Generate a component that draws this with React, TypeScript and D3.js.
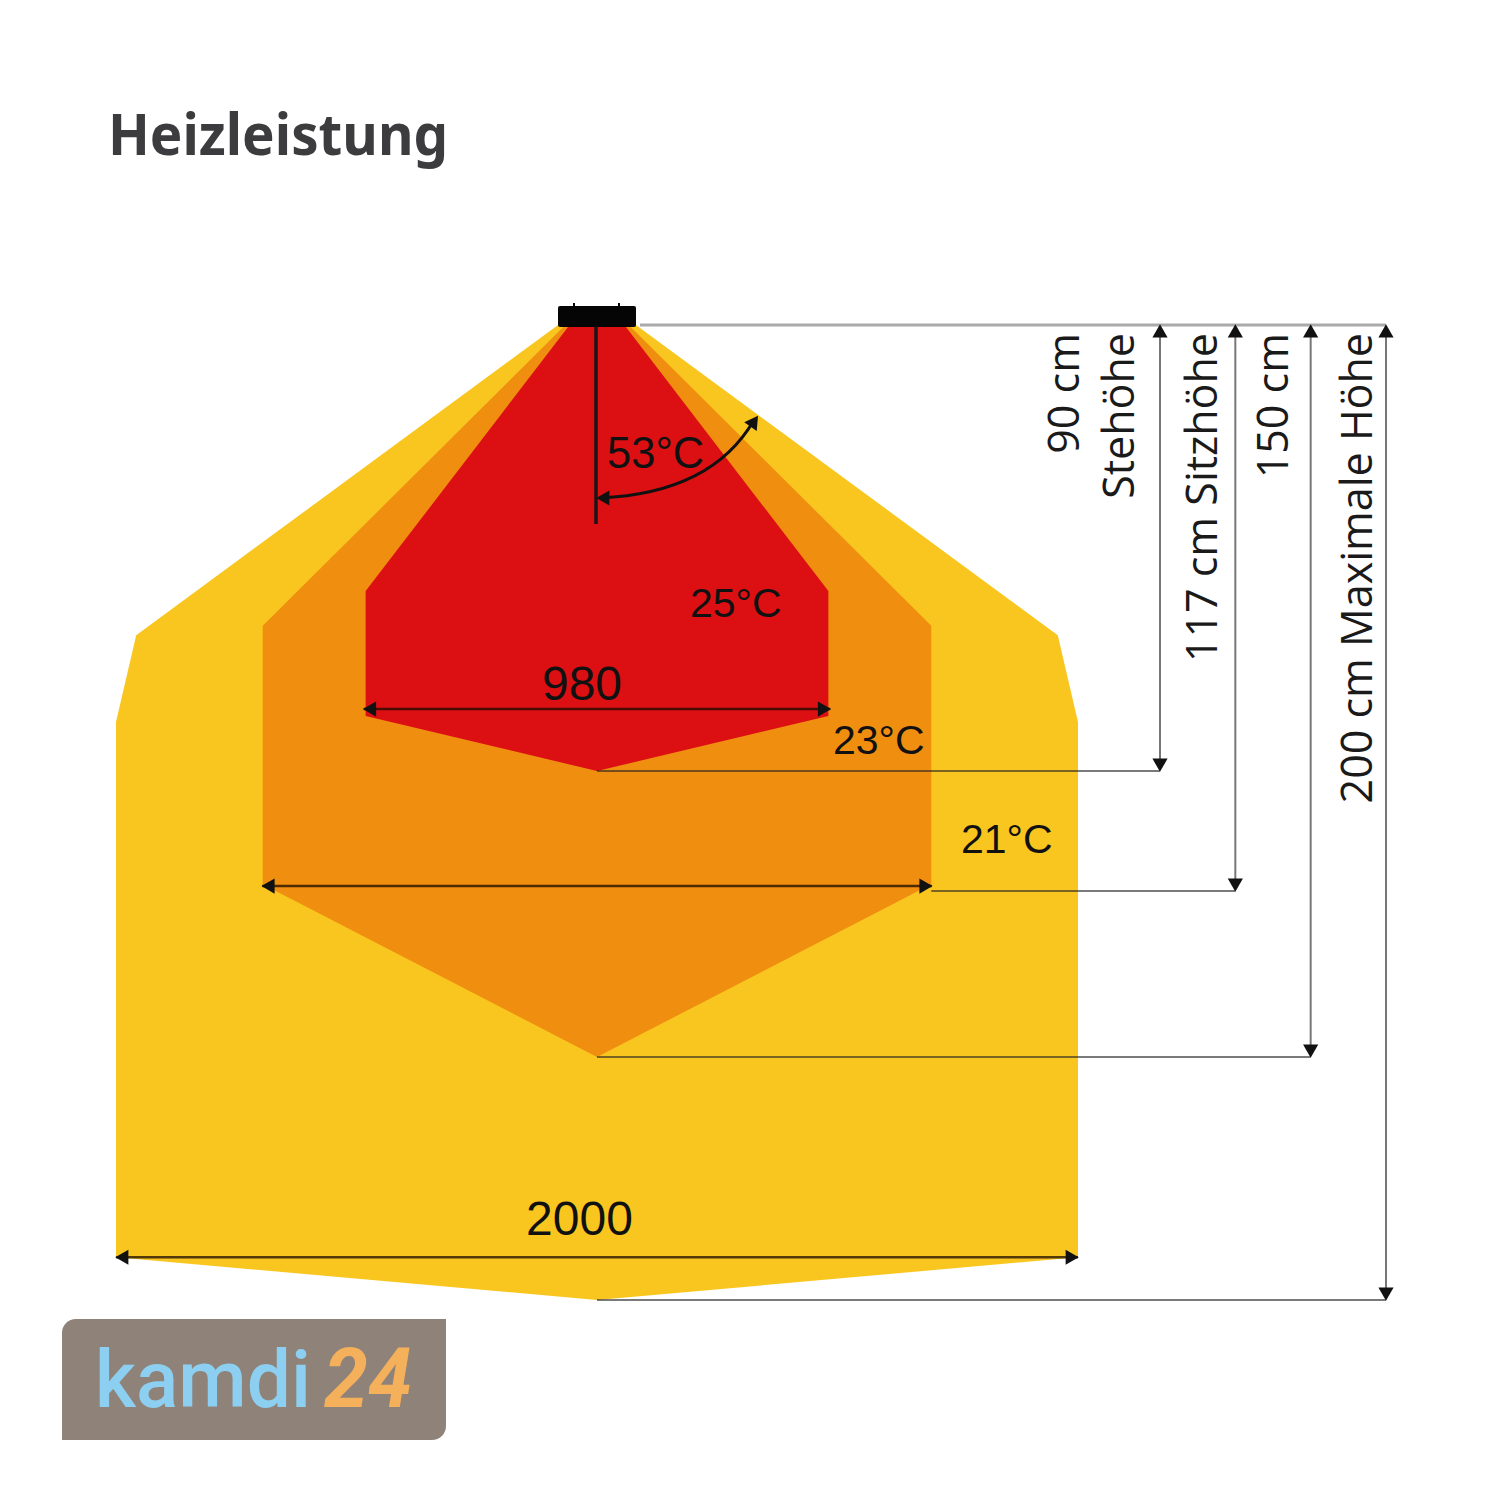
import * as d3 from 'd3';

const titleText = 'Heizleistung';

// half profile of each zone: lateral offset from the heater axis (mm) at a depth below it (cm)
const zoneNames = ['21°C', '23°C', '25°C'];
const zoneColors = ['#f9c61f', '#f08e10', '#dc1013'];
const zoneOffsets = [
    [81, 958, 1000, 1000, 0],
    [66, 695, 695, 0],
    [57, 481, 481, 0],
];
const zoneDepths = [
    [0, 62.6, 80.1, 191.2, 200],
    [0, 60.7, 115.5, 150],
    [0, 53.7, 78.9, 90],
];

// dimension lines on the right
const heights = [90, 117, 150, 200];
const leaderStart = [0, 695, 0, 0];
const heightLabels = [
    ['90 cm', 'Stehöhe'],
    ['117 cm Sitzhöhe'],
    ['150 cm'],
    ['200 cm Maximale Höhe'],
];

// width arrows
const spanWidths = [970, 1392, 2000];
const spanDepths = [77.5, 115.9, 191.2];
const spanLabels = ['980', '', '2000'];

const x = d3.scaleLinear().domain([-1000, 1000]).range([116, 1078]);
// the drawing is not true to scale, so the depth axis is piecewise
const y = d3.scaleLinear().domain([0, 90, 117, 150, 200]).range([325, 771, 891, 1057, 1300]);
const dimX = d3.scalePoint<number>().domain(heights).range([1160, 1386]);

const outline = d3.line<[number, number]>().x((d) => x(d[0])).y((d) => y(d[1]));

function zonePath(i: number) {
    const right = zoneOffsets[i].map((o, k) => [o, zoneDepths[i][k]] as [number, number]);
    const left = right.slice(0, -1).reverse().map((d) => [-d[0], d[1]] as [number, number]);
    return outline([...right, ...left]) + 'Z';
}

const triangle = d3.symbol().type(d3.symbolTriangle).size(100)();

function Head({ px, py, angle }: { px: number; py: number; angle: number }) {
    return <path d={triangle!} transform={`translate(${px},${py}) rotate(${angle})`} fill="#111" />;
}

function angleArc() {
    const p = d3.path();
    p.moveTo(600, 498);
    p.quadraticCurveTo(712, 493, 754, 420);
    return p.toString();
}

const logoPath = (() => {
    const p = d3.path();
    p.moveTo(76, 1319);
    p.lineTo(446, 1319);
    p.lineTo(446, 1426);
    p.arcTo(446, 1440, 432, 1440, 14);
    p.lineTo(62, 1440);
    p.lineTo(62, 1333);
    p.arcTo(62, 1319, 76, 1319, 14);
    p.closePath();
    return p.toString();
})();

const armText = { fontFamily: 'Liberation Sans', fill: '#111' };
const sideText = { fontFamily: 'Open Sans', fontSize: 43, fill: '#1a1a1a' };

export default function App() {
    return (
        <svg width={1500} height={1500} style={{ position: 'absolute', left: 0, top: 0, background: '#fff' }}>
            <text x={108} y={155} fontFamily="Noto Sans" fontWeight={700} fontSize={58} fill="#3c3c3e" textLength={340} lengthAdjust="spacingAndGlyphs">
                {titleText}
            </text>

            {zoneNames.map((name, i) => (
                <path key={name} d={zonePath(i)} fill={zoneColors[i]} />
            ))}

            {/* heater */}
            <rect x={558} y={306} width={78} height={21} rx={2} fill="#050505" />
            <rect x={573} y={303} width={2} height={4} fill="#050505" />
            <rect x={618} y={303} width={2} height={4} fill="#050505" />
            <line x1={596} x2={596} y1={327} y2={524} stroke="#1c1416" strokeWidth={3.5} />

            {/* angle marker */}
            <path d={angleArc()} fill="none" stroke="#111" strokeWidth={3} />
            <Head px={605} py={498} angle={-90} />
            <Head px={753} py={423} angle={35} />

            {/* height dimensions */}
            <line x1={640} x2={dimX(200)!} y1={y(0)} y2={y(0)} stroke="#aaa" strokeWidth={3} />
            {heights.map((h, i) => (
                <g key={h}>
                    <line x1={dimX(h)} x2={dimX(h)} y1={y(0) + 4} y2={y(h) - 4} stroke="#777" strokeWidth={2} />
                    <line x1={x(leaderStart[i])} x2={dimX(h)} y1={y(h)} y2={y(h)} stroke="#222" strokeOpacity={0.6} strokeWidth={2} />
                    <Head px={dimX(h)!} py={y(0) + 8} angle={0} />
                    <Head px={dimX(h)!} py={y(h) - 8} angle={180} />
                </g>
            ))}

            {/* width dimensions */}
            {spanWidths.map((w, i) => {
                const py = y(spanDepths[i]);
                return (
                    <g key={w}>
                        <line x1={x(-w / 2)} x2={x(w / 2)} y1={py} y2={py} stroke="#1a0a00" strokeOpacity={0.75} strokeWidth={2.5} />
                        <Head px={x(-w / 2) + 8} py={py} angle={-90} />
                        <Head px={x(w / 2) - 8} py={py} angle={90} />
                        {spanLabels[i] && (
                            <text x={x(0) - (i === 2 ? 17.5 : 15)} y={py - 9 - (i === 2 ? 13 : 0)} textAnchor="middle" fontSize={48} {...armText}>
                                {spanLabels[i]}
                            </text>
                        )}
                    </g>
                );
            })}

            {/* temperatures */}
            <text x={607} y={468} fontSize={43.5} {...armText}>53°C</text>
            <text x={690} y={617} fontSize={41} {...armText}>25°C</text>
            <text x={833} y={754} fontSize={41} {...armText}>23°C</text>
            <text x={961} y={853} fontSize={41} {...armText}>21°C</text>

            {/* rotated height labels */}
            <text transform="translate(1079,333) rotate(-90)" textAnchor="end" {...sideText}>{heightLabels[0][0]}</text>
            <text transform="translate(1134,333) rotate(-90)" textAnchor="end" {...sideText}>{heightLabels[0][1]}</text>
            <text transform="translate(1217,333) rotate(-90)" textAnchor="end" {...sideText}>{heightLabels[1][0]}</text>
            <text transform="translate(1288,333) rotate(-90)" textAnchor="end" {...sideText}>{heightLabels[2][0]}</text>
            <text transform="translate(1372,333) rotate(-90)" textAnchor="end" {...sideText}>{heightLabels[3][0]}</text>

            {/* logo */}
            <path d={logoPath} fill="#8f8279" />
            <text x={95} y={1407} fontFamily="Roboto" fontWeight={500} fontSize={80} fill="#8ccff0" textLength={216} lengthAdjust="spacingAndGlyphs">kamdi</text>
            <text x={324} y={1407} fontFamily="Roboto" fontWeight={700} fontStyle="italic" fontSize={84} fill="#f4b05a" textLength={88} lengthAdjust="spacingAndGlyphs">24</text>
        </svg>
    );
}
